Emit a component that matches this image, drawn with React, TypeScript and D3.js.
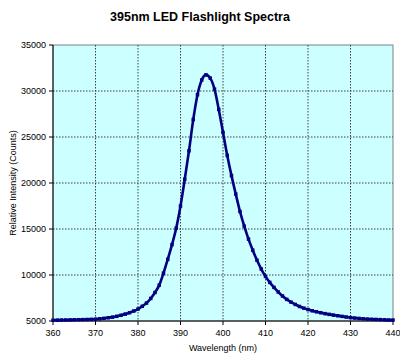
import React from "react";
import * as d3 from "d3";

const wavelengths: number[] = d3.range(360, 441);
const intensity: number[] = [
  5080, 5090, 5100, 5110, 5120, 5130, 5140, 5150, 5165, 5180,
  5200, 5240, 5290, 5350, 5420, 5510, 5620, 5750, 5900, 6080,
  6300, 6600, 6950, 7450, 8100, 8900, 10200, 11700, 13300, 15100,
  17500, 20400, 23500, 26900, 29600, 31200, 31750, 31400, 30200, 28000,
  25500, 23000, 20800, 18800, 16900, 15300, 13900, 12700, 11600, 10650,
  9850, 9200, 8650, 8150, 7720, 7350, 7050, 6800, 6580, 6400,
  6240, 6110, 6000, 5900, 5800, 5720, 5640, 5570, 5500, 5430,
  5370, 5320, 5280, 5240, 5210, 5190, 5170, 5150, 5130, 5110,
  5100,
];
const xTicks: number[] = [360, 370, 380, 390, 400, 410, 420, 430, 440];
const yTicks: number[] = [5000, 10000, 15000, 20000, 25000, 30000, 35000];

const W = 400;
const H = 358;
const left = 53;
const right = 393;
const top = 45;
const bottom = 321;
const font = "'Liberation Sans', Arial, sans-serif";

export default function App() {
  const x = d3.scaleLinear().domain([360, 440]).range([left, right]);
  const y = d3.scaleLinear().domain([5000, 35000]).range([bottom, top]);
  const pts = wavelengths.map((w, i) => [w, intensity[i]] as [number, number]);
  const line = d3
    .line<[number, number]>()
    .x((d) => x(d[0]))
    .y((d) => y(d[1]))
    .curve(d3.curveMonotoneX);

  return (
    <svg
      width={W}
      height={H}
      style={{ position: "absolute", left: 0, top: 0, background: "#fff" }}
      fontFamily={font}
    >
      <text x={W / 2} y={21} textAnchor="middle" fontSize={12.5} fontWeight="bold">
        395nm LED Flashlight Spectra
      </text>
      <rect x={left} y={top} width={right - left} height={bottom - top} fill="#ccffff" stroke="#808080" strokeWidth={1} />
      {xTicks.slice(1, -1).map((t) => (
        <line key={"gx" + t} x1={x(t)} x2={x(t)} y1={top} y2={bottom} stroke="#404040" strokeWidth={1} strokeDasharray="1.5,1.5" />
      ))}
      {yTicks.slice(1, -1).map((t) => (
        <line key={"gy" + t} x1={left} x2={right} y1={y(t)} y2={y(t)} stroke="#404040" strokeWidth={1} strokeDasharray="1.5,1.5" />
      ))}
      <line x1={left} x2={left} y1={top} y2={bottom} stroke="#000" />
      <line x1={left} x2={right} y1={bottom} y2={bottom} stroke="#000" />
      {yTicks.map((t) => (
        <g key={"yt" + t}>
          <line x1={left - 4} x2={left} y1={y(t)} y2={y(t)} stroke="#000" />
          <text x={left - 7} y={y(t) + 3} textAnchor="end" fontSize={9}>
            {t}
          </text>
        </g>
      ))}
      {xTicks.map((t) => (
        <g key={"xt" + t}>
          <line x1={x(t)} x2={x(t)} y1={bottom} y2={bottom + 4} stroke="#000" />
          <text x={x(t)} y={bottom + 15} textAnchor="middle" fontSize={9}>
            {t}
          </text>
        </g>
      ))}
      <path d={line(pts) || ""} fill="none" stroke="#000080" strokeWidth={2.6} />
      {pts.map((d, i) => (
        <rect key={"m" + i} x={x(d[0]) - 1.75} y={y(d[1]) - 1.75} width={3.5} height={3.5} fill="#000080" />
      ))}
      <text x={(left + right) / 2} y={351} textAnchor="middle" fontSize={9}>
        Wavelength (nm)
      </text>
      <text transform={`translate(16,${(top + bottom) / 2}) rotate(-90)`} textAnchor="middle" fontSize={9}>
        Relative Intensity (Counts)
      </text>
    </svg>
  );
}
